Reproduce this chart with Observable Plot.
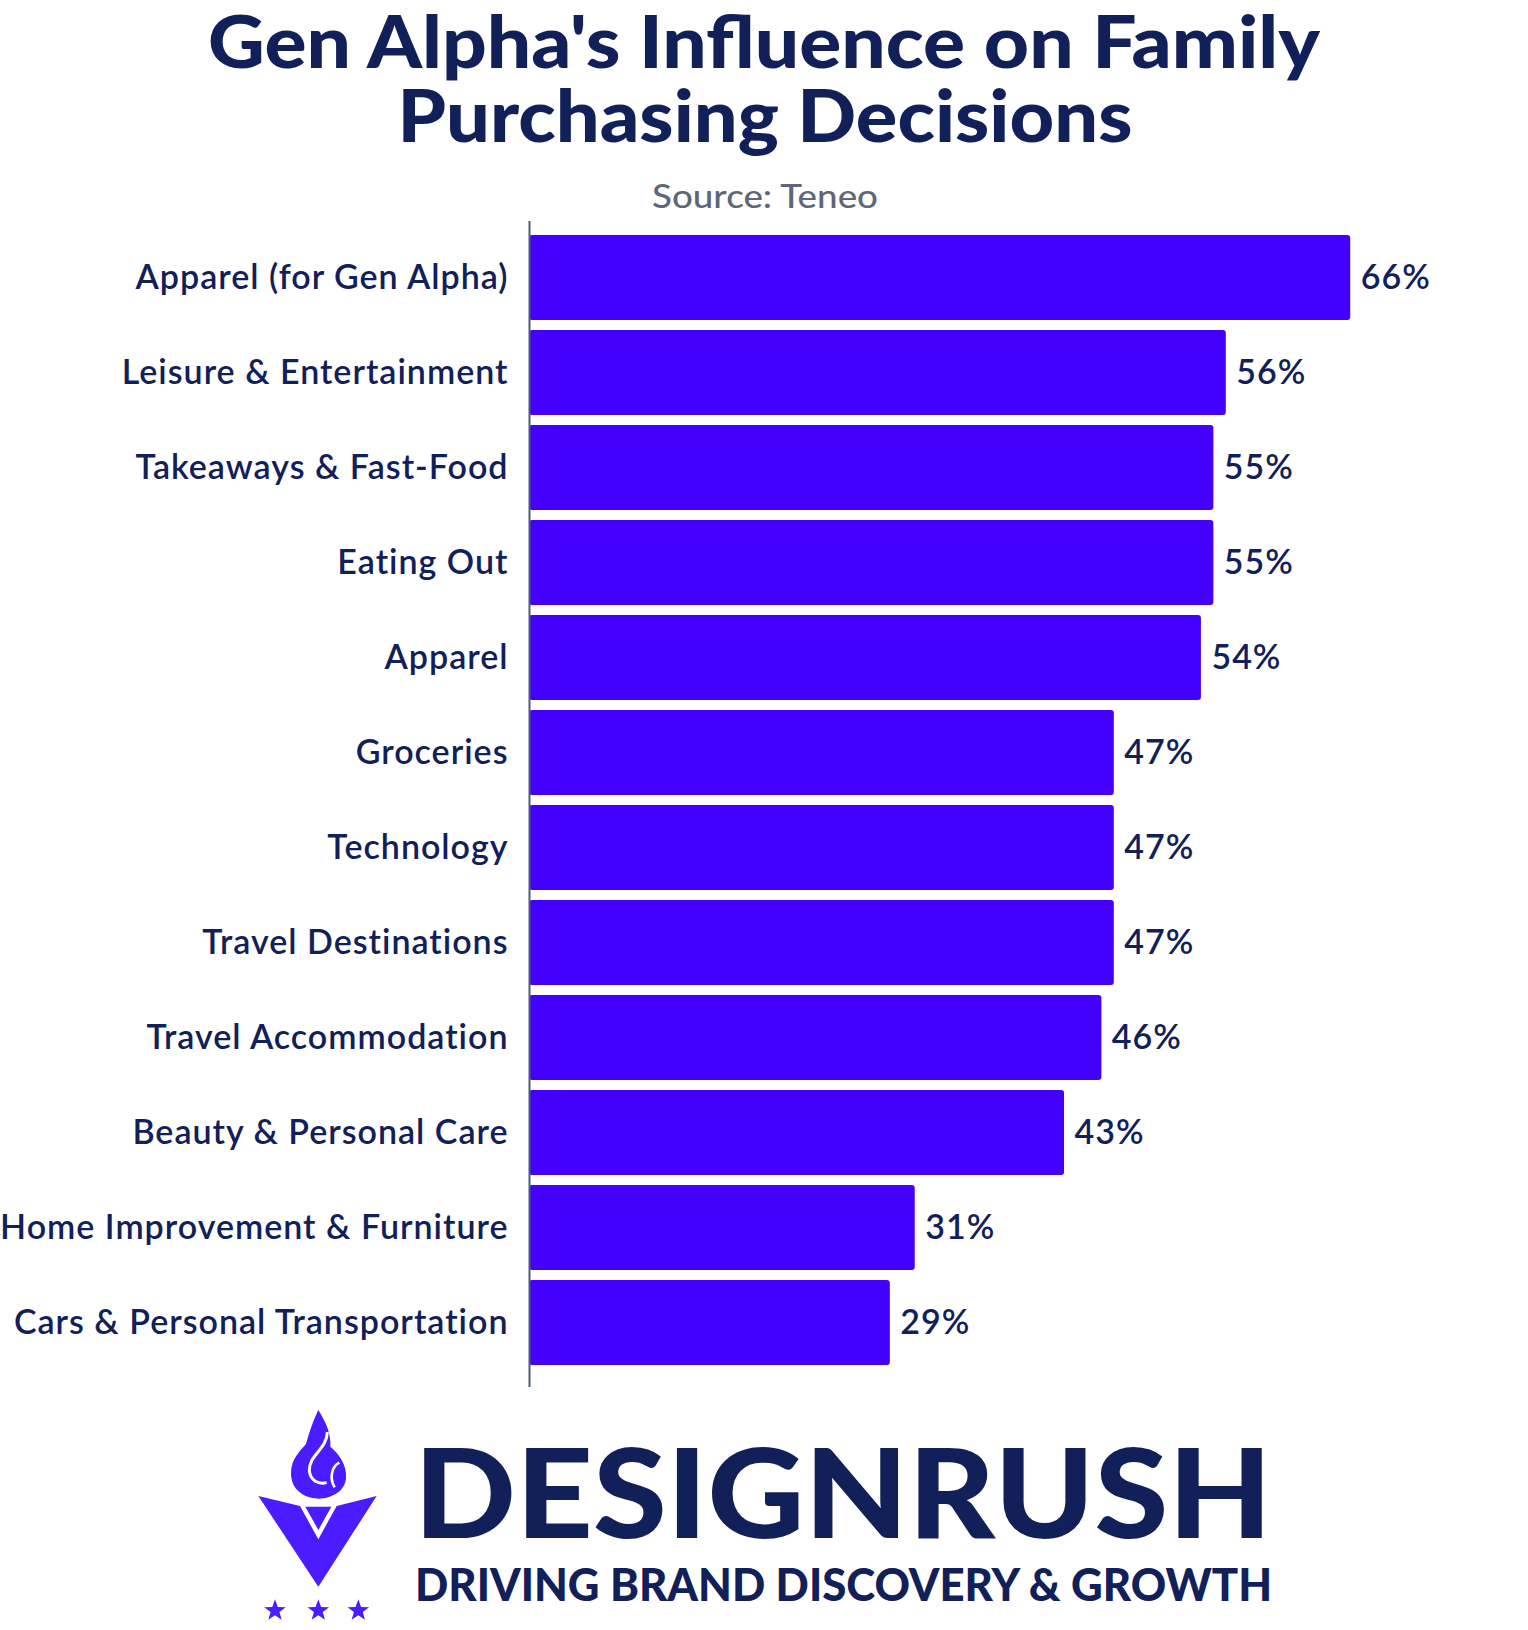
<!DOCTYPE html>
<html>
<head>
<meta charset="utf-8">
<script src="https://cdn.jsdelivr.net/npm/d3@7"></script>
<script src="https://cdn.jsdelivr.net/npm/@observablehq/plot@0.6"></script>
<style>
  html, body { margin: 0; padding: 0; background: #ffffff; }
  #page { position: relative; width: 1528px; height: 1630px; overflow: hidden; background: #ffffff; font-family: Lato, "Noto Sans", sans-serif; }
  #header, #footer, #chart { position: absolute; left: 0; }
  #header { top: 0; }
  #chart { top: 200px; }
  #footer { top: 1395px; }
  #chart text { letter-spacing: 1px; }
</style>
</head>
<body>
<div id="page">
  <svg id="header" width="1528" height="232" xmlns="http://www.w3.org/2000/svg">
    <text x="764" y="68" text-anchor="middle" font-family="Lato" font-weight="900" font-size="72" fill="#12205a" textLength="1112" lengthAdjust="spacingAndGlyphs">Gen Alpha's Influence on Family</text>
    <text x="765" y="142" text-anchor="middle" font-family="Lato" font-weight="900" font-size="72" fill="#12205a" textLength="735" lengthAdjust="spacingAndGlyphs">Purchasing Decisions</text>
    <text x="765" y="208" text-anchor="middle" font-family="Lato" font-weight="500" font-size="33" fill="#5d6778" textLength="226" lengthAdjust="spacingAndGlyphs">Source: Teneo</text>
  </svg>
  <div id="chart"></div>
  <svg id="footer" width="1528" height="235" xmlns="http://www.w3.org/2000/svg">
    <g transform="translate(250,5) scale(0.3333)" fill="#4a1cff">
      <path d="M205,30 C226,64 244,100 241,140 C266,160 292,196 288,236 C284,270 252,294 205,296 C156,294 123,265 123,220 C123,176 150,154 168,132 C176,104 186,70 205,30 Z"/>
      <path d="M232,96 C232,146 176,166 178,212 C180,240 204,254 230,248" fill="none" stroke="#ffffff" stroke-width="9"/>
      <path d="M268,188 C244,200 238,236 254,262" fill="none" stroke="#ffffff" stroke-width="8"/>
      <path d="M25,288 L150,318 L205,418 L260,318 L380,288 L205,560 Z"/>
      <path d="M166,320 L244,320 L205,390 Z"/>
      <g id="stars"></g>
    </g>
    <text x="414" y="143" font-family="Lato" font-weight="900" font-size="124" fill="#12205a" textLength="858" lengthAdjust="spacingAndGlyphs">DESIGNRUSH</text>
    <text x="415" y="206" font-family="Lato" font-weight="900" font-size="45" fill="#12205a" textLength="857" lengthAdjust="spacingAndGlyphs">DRIVING BRAND DISCOVERY &amp; GROWTH</text>
  </svg>
</div>
<script>
const categories = [
  "Apparel (for Gen Alpha)",
  "Leisure & Entertainment",
  "Takeaways & Fast-Food",
  "Eating Out",
  "Apparel",
  "Groceries",
  "Technology",
  "Travel Destinations",
  "Travel Accommodation",
  "Beauty & Personal Care",
  "Home Improvement & Furniture",
  "Cars & Personal Transportation"
];
const values = [66, 56, 55, 55, 54, 47, 47, 47, 46, 43, 31, 29];

const data = categories.map((c, i) => ({category: c, value: values[i]}));

// stars of the logo
(function drawStars() {
  const g = document.getElementById("stars");
  const centers = [75, 205, 325];
  centers.forEach(cx => {
    const cy = 632, R = 34, r = 14;
    let pts = [];
    for (let k = 0; k < 10; k++) {
      const a = -Math.PI / 2 + k * Math.PI / 5;
      const rad = k % 2 === 0 ? R : r;
      pts.push((cx + rad * Math.cos(a)).toFixed(1) + "," + (cy + rad * Math.sin(a)).toFixed(1));
    }
    const p = document.createElementNS("http://www.w3.org/2000/svg", "polygon");
    p.setAttribute("points", pts.join(" "));
    g.appendChild(p);
  });
})();

const chart = Plot.plot({
  width: 1528,
  height: 1200,
  marginLeft: 529,
  marginRight: 128,
  marginTop: 21,
  marginBottom: 22,
  x: {domain: [0, 70], axis: null},
  y: {domain: categories, paddingInner: 0.11, paddingOuter: 0.115, axis: null},
  style: {fontFamily: "Lato, 'Noto Sans', sans-serif", fontSize: "34px", color: "#12205a", background: "transparent", overflow: "visible"},
  marks: [
    Plot.barX(data, {x: "value", y: "category", fill: "#4400ff", rx: 3}),
    Plot.ruleX([0], {stroke: "#4d5a7a", strokeWidth: 2, insetBottom: -9}),
    Plot.axisY({tickSize: 0, tickPadding: 21, fontSize: 34, fontWeight: 600, label: null, fill: "#12205a"}),
    Plot.text(data, {x: "value", y: "category", text: d => d.value + "%", dx: 10, textAnchor: "start", fontSize: 34, fontWeight: 600, fill: "#12205a"})
  ]
});
document.getElementById("chart").appendChild(chart);
</script>
</body>
</html>
